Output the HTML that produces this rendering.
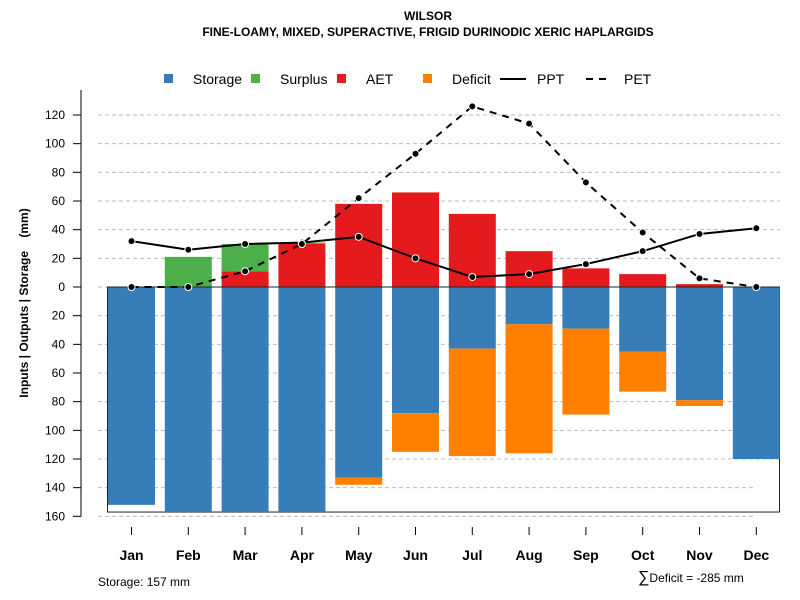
<!DOCTYPE html>
<html><head><meta charset="utf-8"><style>
body{margin:0;background:#fff}
svg{display:block;font-family:"Liberation Sans",sans-serif}
</style></head><body>
<svg id="c" width="800" height="600" xmlns="http://www.w3.org/2000/svg">
<text x="428" y="20" text-anchor="middle" font-size="12" font-weight="bold">WILSOR</text>
<text x="428" y="36" text-anchor="middle" font-size="12" font-weight="bold">FINE-LOAMY, MIXED, SUPERACTIVE, FRIGID DURINODIC XERIC HAPLARGIDS</text>
<g id="grid"></g><g id="bars"></g><g id="lines"></g><g id="axes"></g>
<g font-size="14">
<rect x="164" y="74" width="9" height="9" fill="#377eb8"/>
<text x="193" y="84">Storage</text>
<rect x="251" y="74" width="9" height="9" fill="#4daf4a"/>
<text x="280" y="84">Surplus</text>
<rect x="337" y="74" width="9" height="9" fill="#e41a1c"/>
<text x="366" y="84">AET</text>
<rect x="423" y="74" width="9" height="9" fill="#ff7f00"/>
<text x="452" y="84">Deficit</text>
<line x1="500" y1="79" x2="526" y2="79" stroke="#000" stroke-width="2"/>
<text x="537" y="84">PPT</text>
<line x1="586" y1="79" x2="610" y2="79" stroke="#000" stroke-width="2" stroke-dasharray="7,6"/>
<text x="624" y="84">PET</text>
</g>
<text transform="translate(28,303) rotate(-90)" text-anchor="middle" font-size="12" font-weight="bold">Inputs | Outputs | Storage&#160;&#160;&#160;&#160;(mm)</text>
<text x="98" y="586" font-size="12">Storage: 157 mm</text>
<text x="638" y="582" font-size="12"><tspan font-size="16">∑</tspan>Deficit = -285 mm</text>
</svg>
<script>
const months=["Jan","Feb","Mar","Apr","May","Jun","Jul","Aug","Sep","Oct","Nov","Dec"];
const storage=[152,157,157,157,133,88,43,26,29,45,79,120];
const deficit=[0,0,0,0,5,27,75,90,60,28,4,0];
const aet=[0,0,11,30,58,66,51,25,13,9,2,0];
const surplus=[0,21,19,1,0,0,0,0,0,0,0,0];
const ppt=[32,26,30,31,35,20,7,9,16,25,37,41];
const pet=[0,0,11,30,62,93,126,114,73,38,6,0];
const ticks=[120,100,80,60,40,20,0,20,40,60,80,100,120,140,160];
const tickVals=[120,100,80,60,40,20,0,-20,-40,-60,-80,-100,-120,-140,-160];
const capacity=157;
const NS="http://www.w3.org/2000/svg";
const y=v=>287-v*(172/120);
const xc=i=>131.5+i*56.8;
const bw=47;
function mk(p,t,a){const e=document.createElementNS(NS,t);for(const k in a)e.setAttribute(k,a[k]);document.getElementById(p).appendChild(e);return e;}
tickVals.forEach((v,i)=>{
 const g=mk("grid","line",{x1:98,x2:v<=-140?755:780,y1:y(v),y2:y(v),stroke:"#bbb","stroke-dasharray":"4,3"});
 
 
 const t=mk("axes","line",{x1:73,x2:81,y1:y(v),y2:y(v),stroke:"#000"});
 
 
 const l=mk("axes","text",{x:65,y:y(v)+4,"text-anchor":"end","font-size":12});
 l.textContent=ticks[i];
 
 
});
const ax=mk("axes","line",{x1:81,x2:81,y1:90,y2:y(-160),stroke:"#000"});


const box=mk("bars","rect",{x:107.5,y:y(0),width:672,height:y(-capacity)-y(0),fill:"none",stroke:"#222"});


months.forEach((m,i)=>{
 const x0=xc(i)-bw/2;
 let r=mk("bars","rect",{x:x0,y:y(0),width:bw,height:y(-storage[i])-y(0),fill:"#377eb8"});
 
 
 if(deficit[i]>0){r=mk("bars","rect",{x:x0,y:y(-storage[i]),width:bw,height:y(-storage[i]-deficit[i])-y(-storage[i]),fill:"#ff7f00"});
 
 }
 if(aet[i]>0){r=mk("bars","rect",{x:x0,y:y(aet[i]),width:bw,height:y(0)-y(aet[i]),fill:"#e41a1c"});
 
 }
 if(surplus[i]>0){r=mk("bars","rect",{x:x0,y:y(aet[i]+surplus[i]),width:bw,height:y(aet[i])-y(aet[i]+surplus[i]),fill:"#4daf4a"});
 
 }
 const t=mk("axes","line",{x1:xc(i),x2:xc(i),y1:527,y2:535,stroke:"#000"});
 
 
 const l=mk("axes","text",{x:xc(i),y:560,"text-anchor":"middle","font-size":14,"font-weight":"bold"});
 l.textContent=m;
 
 
});
const zl=mk("bars","line",{x1:107.5,x2:779.5,y1:y(0),y2:y(0),stroke:"#222"});


function series(arr,dash,name){
 const p=mk("lines","polyline",{points:arr.map((v,i)=>xc(i)+","+y(v)).join(" "),fill:"none",stroke:"#000","stroke-width":2,"stroke-dasharray":dash});
 
 
 arr.forEach((v,i)=>{const c=mk("lines","circle",{cx:xc(i),cy:y(v),r:3.5,fill:"#000",stroke:"#fff","stroke-width":1});
 
 });
}
series(ppt,"none","ppt");
series(pet,"7,6","pet");
</script>
</body></html>
